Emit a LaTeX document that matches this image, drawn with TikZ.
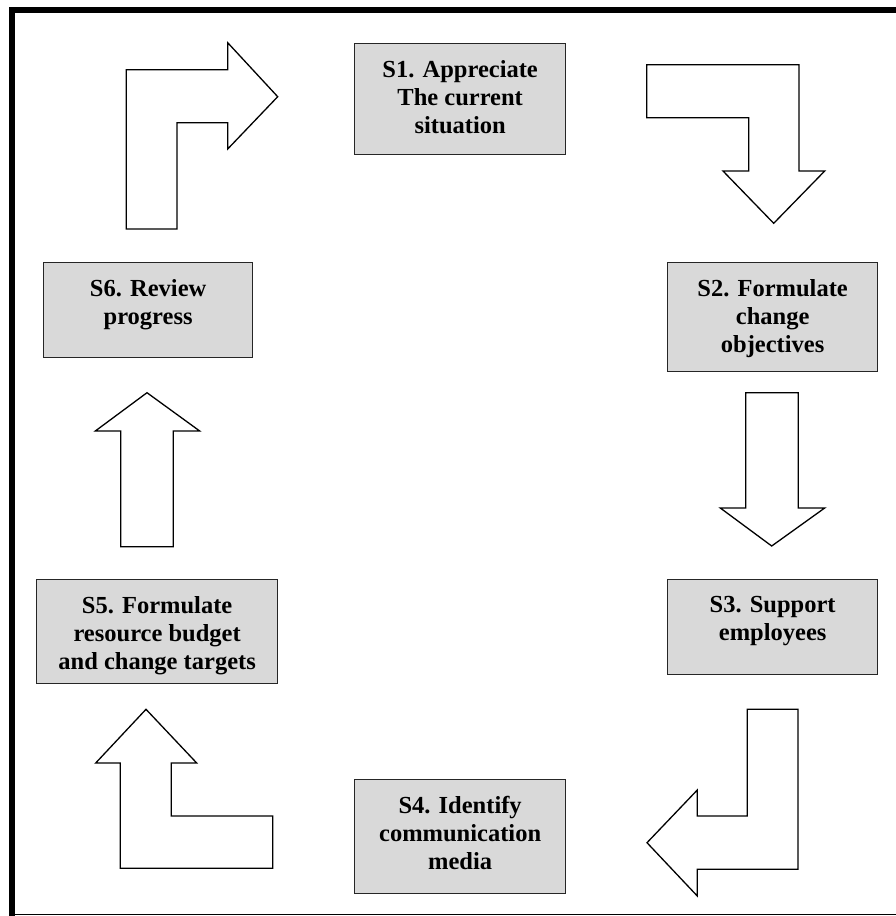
\documentclass[tikz,border=0pt]{standalone}
\usepackage{fontspec}
\setmainfont{Liberation Serif}
\definecolor{boxgray}{HTML}{D9D9D9}
\begin{document}
\begin{tikzpicture}[x=1pt,y=-1pt,
  box/.style={draw=black!85, line width=1.3pt, fill=boxgray, inner sep=0pt, anchor=north west},
  txt/.style={align=center, inner sep=0pt, font=\fontsize{24.5}{28}\selectfont\bfseries, anchor=north},
  blk/.style={draw=black, line width=1.3pt, fill=white, line join=miter}]
\useasboundingbox (0,0) rectangle (896,916);
\fill[white] (0,0) rectangle (896,916);
% frame
\draw[line width=6pt] (12,916) -- (12,10) -- (896,10);
\draw[line width=1.5pt] (12,914.5) -- (896,914.5);
% boxes
\node[box, minimum width=211pt, minimum height=111pt] (s1) at (354,43) {};
\node[box, minimum width=210pt, minimum height=109pt] (s2) at (667,262) {};
\node[box, minimum width=210pt, minimum height=95pt] (s3) at (667,579) {};
\node[box, minimum width=211pt, minimum height=114pt] (s4) at (354,779) {};
\node[box, minimum width=241pt, minimum height=104pt] (s5) at (36,579) {};
\node[box, minimum width=209pt, minimum height=95pt] (s6) at (43,262) {};
% texts
\node[txt] (t1) at ([yshift=-17pt]s1.north) {S1. Appreciate\\The current\\situation};
\node[txt] (t2) at ([yshift=-17pt]s2.north) {S2. Formulate\\change\\objectives};
\node[txt] (t3) at ([yshift=-17pt]s3.north) {S3. Support\\employees};
\node[txt] (t4) at ([yshift=-17pt]s4.north) {S4. Identify\\communication\\media};
\node[txt] (t5) at ([yshift=-17pt]s5.north) {S5. Formulate\\resource budget\\and change targets};
\node[txt] (t6) at ([yshift=-17pt]s6.north) {S6. Review\\progress};
% block arrows
% S6 -> S1
\draw[blk] (126.3,229) -- (126.3,69.7) -- (227.7,69.7) -- (227.7,42.7) -- (277.7,96.7)
  -- (227.7,149) -- (227.7,122.7) -- (177,122.7) -- (177,229) -- cycle;
% S1 -> S2
\draw[blk] (646.7,64.7) -- (799,64.7) -- (799,171) -- (824.7,171) -- (773.7,223.3)
  -- (723,171) -- (748.7,171) -- (748.7,117.7) -- (646.7,117.7) -- cycle;
% S2 -> S3
\draw[blk] (745.7,392.7) -- (798.3,392.7) -- (798.3,508) -- (824.7,508) -- (771.7,546)
  -- (720.3,508) -- (745.7,508) -- cycle;
% S3 -> S4
\draw[blk] (747.3,709.3) -- (798,709.3) -- (798,869.3) -- (697.3,869.3) -- (697.3,896)
  -- (647,842.7) -- (697.3,790) -- (697.3,816) -- (747.3,816) -- cycle;
% S4 -> S5
\draw[blk] (120.3,868.3) -- (120.3,763) -- (95.7,763) -- (146,709.3) -- (196.7,763)
  -- (171.3,763) -- (171.3,816) -- (272.7,816) -- (272.7,868.3) -- cycle;
% S5 -> S6
\draw[blk] (120.7,546.7) -- (120.7,431) -- (95.3,431) -- (147,392.7) -- (199.7,431)
  -- (173.3,431) -- (173.3,546.7) -- cycle;
\end{tikzpicture}
\end{document}
